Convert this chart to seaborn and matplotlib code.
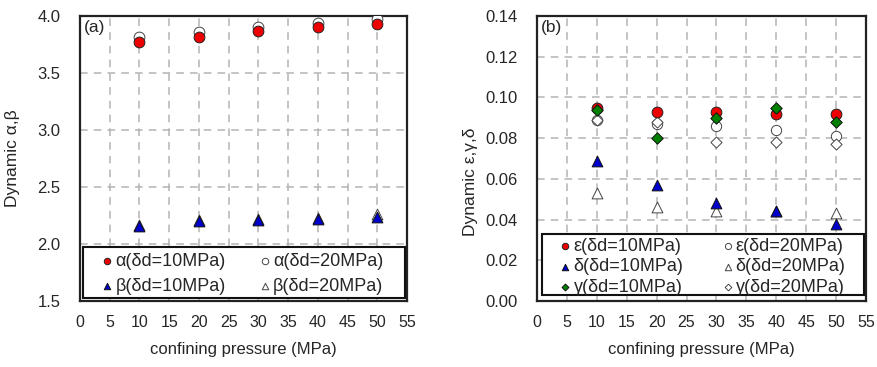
import numpy as np
import pandas as pd
import matplotlib
matplotlib.use("Agg")
import matplotlib.pyplot as plt
from matplotlib.patches import Rectangle
import seaborn as sns

# confining pressure (MPa)
pressure = [10, 20, 30, 40, 50]

# panel (a)
alpha_10 = [3.77, 3.82, 3.87, 3.90, 3.93]
alpha_20 = [3.82, 3.86, 3.90, 3.94, 3.97]
beta_10 = [2.16, 2.20, 2.21, 2.22, 2.24]
beta_20 = [2.17, 2.21, 2.22, 2.23, 2.26]

# panel (b)
eps_10 = [0.095, 0.093, 0.093, 0.092, 0.092]
eps_20 = [0.089, 0.087, 0.086, 0.084, 0.081]
delta_10 = [0.069, 0.057, 0.048, 0.044, 0.038]
delta_20 = [0.053, 0.046, 0.044, 0.044, 0.043]
gamma_10 = [0.094, 0.080, 0.090, 0.095, 0.088]
gamma_20 = [0.089, 0.088, 0.078, 0.078, 0.077]

x_ticks = list(range(0, 60, 5))

sns.set_theme(style="white")
plt.rcParams["font.family"] = ["Liberation Sans", "DejaVu Sans"]

GRID = "#b4b4b4"


def style_axes(ax, ylim, ystep, fmt, ylabel, panel):
    ax.set_xlim(0, 55)
    ax.set_ylim(*ylim)
    ax.set_xticks(x_ticks)
    ax.set_yticks(np.arange(ylim[0], ylim[1] + ystep / 2, ystep))
    ax.set_yticklabels([fmt.format(v) for v in ax.get_yticks()], fontsize=12)
    ax.set_xticklabels([str(v) for v in x_ticks], fontsize=11.5)
    ax.tick_params(length=0)
    ax.tick_params(axis="y", pad=14)
    ax.tick_params(axis="x", pad=10)
    ax.grid(True, color=GRID, linestyle=(0, (5, 4)), linewidth=1.1)
    ax.set_axisbelow(True)
    for s in ax.spines.values():
        s.set_color("#222222")
        s.set_linewidth(1.6)
    ax.set_xlabel("confining pressure (MPa)", fontsize=12, labelpad=9)
    ax.set_ylabel(ylabel, fontsize=12.5)
    ax.text(0.012, 0.985, panel, transform=ax.transAxes, fontsize=12.5,
            va="top", ha="left")


def plot_series(ax, y, marker, face, edge, size, label):
    sns.scatterplot(x=pressure, y=y, marker=marker, s=size, color=face,
                    edgecolor=edge, linewidth=0.7, ax=ax, label=label,
                    legend=False, zorder=3)


def add_legend(ax, order, x0, yc, colspace, spacing, box):
    # white framed box, then a frameless legend placed inside it
    ax.add_patch(Rectangle(box[:2], box[2], box[3], transform=ax.transAxes,
                           facecolor="white", edgecolor="#111111",
                           linewidth=1.5, zorder=4, clip_on=False))
    h, l = ax.get_legend_handles_labels()
    hd = dict(zip(l, h))
    leg = ax.legend([hd[k] for k in order], order, ncol=2, loc="center left",
                    bbox_to_anchor=(x0, yc), frameon=False,
                    fontsize=13, markerscale=0.6, handletextpad=0.1,
                    handlelength=0.7, borderaxespad=0, borderpad=0,
                    columnspacing=colspace, labelspacing=spacing)
    leg.set_zorder(6)


fig = plt.figure(figsize=(8.77, 3.67), dpi=100)
ax1 = fig.add_axes([80 / 877, 66 / 367, 327 / 877, 285 / 367])
ax2 = fig.add_axes([537 / 877, 66 / 367, 329 / 877, 285 / 367])

# ---- panel (a)
plot_series(ax1, alpha_20, "o", "white", "#444444", 60, "α(δd=20MPa)")
plot_series(ax1, beta_20, "^", "white", "#444444", 60, "β(δd=20MPa)")
plot_series(ax1, alpha_10, "o", "#ee0000", "#222222", 60, "α(δd=10MPa)")
plot_series(ax1, beta_10, "^", "#0000cc", "#111111", 60, "β(δd=10MPa)")
style_axes(ax1, (1.5, 4.0), 0.5, "{:.1f}", "Dynamic α,β", "(a)")
ax1.yaxis.set_label_coords(-0.185, 0.5)
add_legend(ax1, ["α(δd=10MPa)", "β(δd=10MPa)", "α(δd=20MPa)", "β(δd=20MPa)"],
           0.064, 0.095, 1.83, 0.45, (0.009, 0.01, 0.985, 0.179))

# ---- panel (b)
plot_series(ax2, eps_20, "o", "white", "#444444", 55, "ε(δd=20MPa)")
plot_series(ax2, gamma_20, "D", "white", "#444444", 32, "γ(δd=20MPa)")
plot_series(ax2, delta_20, "^", "white", "#444444", 60, "δ(δd=20MPa)")
plot_series(ax2, eps_10, "o", "#ee0000", "#222222", 60, "ε(δd=10MPa)")
plot_series(ax2, delta_10, "^", "#0000cc", "#111111", 60, "δ(δd=10MPa)")
plot_series(ax2, gamma_10, "D", "#008000", "#111111", 34, "γ(δd=10MPa)")
style_axes(ax2, (0.0, 0.14), 0.02, "{:.2f}", "Dynamic ε,γ,δ", "(b)")
ax2.yaxis.set_label_coords(-0.18, 0.42)
add_legend(ax2, ["ε(δd=10MPa)", "δ(δd=10MPa)", "γ(δd=10MPa)",
                 "ε(δd=20MPa)", "δ(δd=20MPa)", "γ(δd=20MPa)"],
           0.067, 0.12, 2.1, 0.2, (0.015, 0.021, 0.98, 0.214))

fig.savefig("out.png", dpi=100)
